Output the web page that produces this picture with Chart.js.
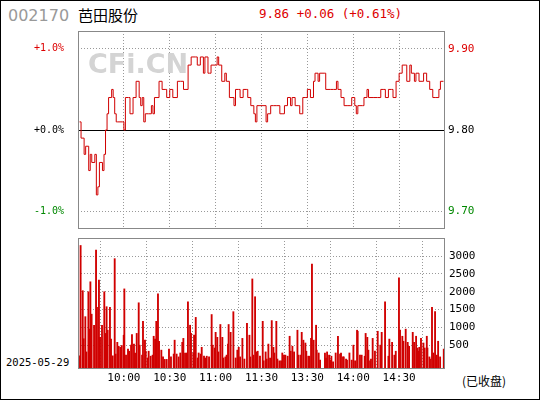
<!DOCTYPE html>
<html><head><meta charset="utf-8">
<script src="https://cdn.jsdelivr.net/npm/chart.js@4/dist/chart.umd.min.js"></script>
<style>
body{margin:0;width:540px;height:400px;background:#fff;position:relative;overflow:hidden;font-family:"DejaVu Sans Mono",monospace}
#frame{position:absolute;left:0;top:0;width:538px;height:398px;border:1px solid #000}
canvas{position:absolute;left:0}
.t{position:absolute;white-space:nowrap}
</style></head><body>
<div id="frame"></div>
<div class="t" style="left:8px;top:6px;font:16px 'DejaVu Sans';color:#999">002170</div>
<div class="t" style="left:78px;top:4px;font:15px 'Noto Sans CJK SC';color:#000">芭田股份</div>
<div class="t" style="left:259px;top:6px;font:12.5px 'DejaVu Sans Mono';color:#d00">9.86 +0.06 (+0.61%)</div>
<div class="t" style="left:6px;top:356px;font:10.5px 'DejaVu Sans Mono';color:#000">2025-05-29</div>
<div class="t" style="left:462px;top:372px;font:12px 'Noto Sans CJK SC';color:#000">(已收盘)</div>
<canvas id="c1" style="top:31px;width:540px;height:198px" width="540" height="198"></canvas>
<canvas id="c2" style="top:238px;width:540px;height:152px" width="540" height="152"></canvas>
<script>
const prevClose = 9.80;
const priceMin = [1,2,4,5,7,8,9,11,12,13,14,16,17,18,19,20,22,23,24,25,26,29,30,31,33,34,36,38,40,41,42,43,44,46,48,49,50,53,55,57,58,60,62,65,67,69,70,72,74,77,78,80,82,83,85,86,87,90,91,92,94,96,97,99,102,103,105,106,108,110,111,113,115,116,117,119,121,123,124,126,128,130,132,134,135,137,139,140,142,144,145,147,149,150,152,154,155,157,158,161,162,165,167,169,170,172,174,176,178,179,181,182,183,186,187,189,190,193,196,198,200,201,203,205,206,208,210,212,214,215,217,218,220,221,223,225,226,228,230,232,234,236,237,239];
const priceVal = [9.81,9.79,9.77,9.78,9.75,9.77,9.76,9.77,9.72,9.73,9.76,9.75,9.77,9.80,9.82,9.84,9.85,9.84,9.82,9.81,9.81,9.81,9.80,9.84,9.84,9.82,9.84,9.86,9.84,9.83,9.84,9.81,9.82,9.82,9.83,9.82,9.84,9.86,9.85,9.85,9.84,9.85,9.84,9.86,9.86,9.85,9.85,9.88,9.89,9.89,9.88,9.89,9.87,9.89,9.87,9.87,9.88,9.88,9.89,9.88,9.86,9.87,9.86,9.84,9.83,9.85,9.85,9.84,9.85,9.85,9.84,9.83,9.82,9.81,9.83,9.83,9.83,9.81,9.82,9.83,9.83,9.83,9.82,9.82,9.83,9.84,9.83,9.84,9.83,9.83,9.82,9.84,9.84,9.85,9.84,9.86,9.87,9.86,9.87,9.87,9.85,9.85,9.85,9.86,9.85,9.84,9.83,9.83,9.83,9.84,9.83,9.82,9.83,9.83,9.84,9.85,9.84,9.84,9.84,9.85,9.85,9.84,9.85,9.85,9.84,9.86,9.87,9.88,9.88,9.86,9.88,9.87,9.86,9.87,9.86,9.86,9.87,9.86,9.85,9.84,9.84,9.85,9.86,9.86];
const volMin = [1.3,1.7,3.1,3.7,4.8,5.5,6.8,7.4,8.1,8.9,10.5,11.8,12.4,13.7,14.4,15.7,17.2,17.9,18.7,19.4,20.9,21.6,22.7,24.0,24.6,25.7,26.6,27.7,28.6,29.9,30.3,31.4,32.7,33.4,34.7,35.3,36.6,37.3,38.4,39.7,40.3,41.9,42.5,43.8,44.3,45.6,46.2,47.5,48.8,49.5,50.4,51.2,52.3,53.0,54.5,55.6,56.7,58.0,59.5,60.8,62.6,63.2,64.5,65.8,66.9,68.2,68.9,70.0,71.1,71.9,73.3,73.9,75.4,75.9,77.0,78.3,78.9,80.2,80.9,82.4,83.1,84.2,85.7,87.4,88.1,89.4,90.0,91.1,91.8,93.1,94.4,95.1,96.4,97.2,98.1,98.5,99.8,101.6,103.1,104.2,105.1,106.0,107.5,108.8,110.5,112.1,112.7,114.0,114.7,115.8,116.9,117.5,119.0,120.8,121.4,122.7,123.4,124.5,125.6,126.7,127.8,128.4,129.7,130.4,131.7,132.8,133.6,134.7,135.6,137.1,138.4,139.1,140.2,141.3,143.5,144.3,145.8,146.3,147.4,148.7,149.3,150.6,151.3,152.4,153.0,154.1,155.7,156.1,157.4,158.3,161.5,162.2,162.9,164.2,165.0,165.7,166.8,168.5,170.0,171.4,172.0,173.3,173.8,175.3,175.9,177.5,179.0,180.1,181.2,182.5,182.9,184.4,185.5,187.5,188.1,189.2,189.9,191.0,191.6,192.7,194.2,196.0,197.7,198.6,200.8,203.0,203.6,205.4,206.9,207.8,209.9,210.6,212.1,212.8,214.3,215.6,216.5,218.9,219.8,221.1,222.0,222.8,223.2,224.3,225.9,226.7,228.1,228.5,229.8,230.2,231.5,232.4,233.5,234.6,235.5,236.8,239.2];
const volVal = [200,3300,2030,680,1300,310,2000,950,2280,1370,1060,3170,1560,2330,720,1060,2000,830,1580,920,1560,670,200,2930,250,580,470,440,490,780,2080,220,390,330,500,800,530,280,830,1690,500,220,1170,640,330,140,330,190,220,750,670,1170,1940,610,360,170,100,100,390,170,250,640,250,170,280,580,690,280,280,1720,1060,830,280,780,1280,140,280,250,440,190,140,190,170,1360,500,420,860,720,310,1080,720,140,170,220,530,1080,860,1440,140,360,440,170,690,110,1110,780,170,2360,220,1860,310,330,190,1170,60,310,110,530,140,1190,440,280,1170,110,60,60,280,220,220,190,750,330,470,310,920,220,220,860,640,560,330,190,190,690,2780,640,1060,360,280,80,280,140,310,220,80,190,30,280,750,250,280,170,170,110,80,280,80,500,60,920,890,220,220,190,830,720,360,60,110,690,330,890,500,860,1720,190,670,580,220,330,2390,920,750,610,950,580,470,860,580,750,420,330,440,690,560,420,750,420,170,110,1560,280,1440,220,610,170,390];
const timeTicks = [30,60,90,120,150,180,210];
const timeLabels = ['10:00','10:30','11:00','11:30','13:30','14:00','14:30'];
const priceTicks = [9.70,9.80,9.90];
const volTicks = [500,1000,1500,2000,2500,3000];

const mono = {family:'DejaVu Sans Mono', size:10};
const noPad = s=>{s.paddingTop=0;s.paddingBottom=0;s.paddingLeft=0;s.paddingRight=0;};
const frame = {id:'frame',afterDraw(c){const a=c.chartArea,x=c.ctx;x.save();x.strokeStyle='#888';x.lineWidth=1;x.strokeRect(Math.round(a.left)+0.5,Math.round(a.top)+0.5,Math.round(a.width)-1,Math.round(a.height)-1);x.restore();}};
const mark = {id:'mark',beforeDatasetsDraw(c){const x=c.ctx;x.save();x.font='bold 27px "DejaVu Sans"';x.fillStyle='#d4d4d4';x.textBaseline='top';x.fillText('CFi.CN',88,21);x.restore();}};
const isPrev = c=>c.tick && Math.abs(c.tick.value-prevClose)<1e-6;
const pctColor = c=>c.tick.value>prevClose+1e-6?'#d00':(c.tick.value<prevClose-1e-6?'#080':'#000');

new Chart(document.getElementById('c1'),{
 type:'line',
 data:{datasets:[{data:priceMin.map((m,i)=>({x:m,y:priceVal[i]})),borderColor:'#d00000',borderWidth:1,pointRadius:0,stepped:true,tension:0}]},
 options:{responsive:false,animation:false,layout:{padding:0},plugins:{legend:{display:false},tooltip:{enabled:false}},
  scales:{
   x:{type:'linear',min:0,max:240,afterBuildTicks(s){s.ticks=timeTicks.map(v=>({value:v}));},afterFit(s){s.height=0;noPad(s);},
      ticks:{display:false},border:{display:false,dash:[1,2]},grid:{color:'#999',drawTicks:false}},
   y:{position:'right',min:9.678,max:9.922,afterBuildTicks(s){s.ticks=priceTicks.map(v=>({value:v}));},afterFit(s){s.width=95;noPad(s);},
      border:{display:false,dash:c=>isPrev(c)?[]:[1,2]},
      grid:{drawTicks:false,color:c=>isPrev(c)?'#000':'#999',lineWidth:1},
      ticks:{padding:3,font:{family:'DejaVu Sans Mono',size:11},callback:v=>v.toFixed(2),color:pctColor}},
   y2:{position:'left',min:9.678,max:9.922,afterBuildTicks(s){s.ticks=priceTicks.map(v=>({value:v}));},afterFit(s){s.width=78;noPad(s);},
      border:{display:false},grid:{display:false},
      ticks:{padding:6,font:mono,callback:v=>{const p=(v-prevClose)/prevClose*100;return (p>=0?'+':'')+p.toFixed(1)+'%';},color:pctColor}}
  }},
 plugins:[frame,mark]
});

new Chart(document.getElementById('c2'),{
 type:'bar',
 data:{datasets:[{data:volMin.map((m,i)=>({x:m,y:[-170,volVal[i]]})),backgroundColor:'#d00000',barThickness:1.2,borderWidth:0,grouped:false}]},
 options:{responsive:false,animation:false,layout:{padding:0},plugins:{legend:{display:false},tooltip:{enabled:false}},
  scales:{
   x:{type:'linear',min:0,max:240,offset:false,afterBuildTicks(s){s.ticks=timeTicks.map(v=>({value:v}));},afterFit(s){s.height=21;noPad(s);},
      border:{display:false,dash:[1,2]},grid:{color:'#999',drawTicks:false},
      ticks:{padding:3,autoSkip:false,maxRotation:0,font:{family:'DejaVu Sans Mono',size:11},color:'#000',callback:(v)=>timeLabels[timeTicks.indexOf(v)]}},
   y:{position:'right',min:-170,max:3510,afterBuildTicks(s){s.ticks=volTicks.map(v=>({value:v}));},afterFit(s){s.width=95;noPad(s);},
      border:{display:false,dash:[1,2]},grid:{color:'#999',drawTicks:false},
      ticks:{padding:4,font:{family:'DejaVu Sans Mono',size:11},color:'#000',callback:v=>String(v)}},
   y2:{position:'left',afterFit(s){s.width=78;noPad(s);},ticks:{display:false},grid:{display:false},border:{display:false}}
  }},
 plugins:[frame]
});
</script></body></html>
